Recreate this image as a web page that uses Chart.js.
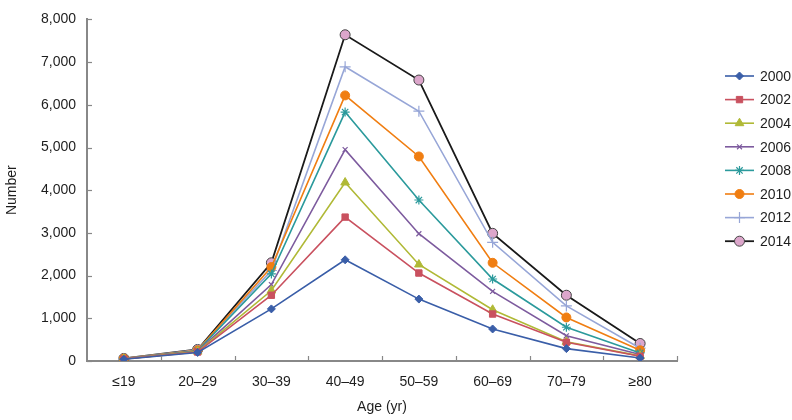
<!DOCTYPE html>
<html>
<head>
<meta charset="utf-8">
<script src="https://cdn.jsdelivr.net/npm/chart.js@4/dist/chart.umd.min.js"></script>
<style>
  html, body { margin: 0; padding: 0; background: #fff; }
  #wrap { width: 792px; height: 420px; }
</style>
</head>
<body>
<div id="wrap"><canvas id="chart"></canvas></div>
<script>
// Age groups and counts per year
const ageGroups = ['≤19', '20–29', '30–39', '40–49', '50–59', '60–69', '70–79', '≥80'];
const years = ['2000', '2002', '2004', '2006', '2008', '2010', '2012', '2014'];
const yTicks = [0, 1000, 2000, 3000, 4000, 5000, 6000, 7000, 8000];

const y2000 = [40, 200, 1220, 2370, 1450, 750, 290, 70];
const y2002 = [45, 210, 1540, 3370, 2060, 1100, 440, 110];
const y2004 = [45, 220, 1650, 4180, 2260, 1200, 450, 120];
const y2006 = [50, 230, 1790, 4950, 2980, 1630, 590, 150];
const y2008 = [50, 240, 2040, 5830, 3770, 1920, 790, 190];
const y2010 = [55, 250, 2200, 6220, 4790, 2300, 1020, 250];
const y2012 = [55, 260, 2120, 6890, 5850, 2780, 1290, 300];
const y2014 = [60, 270, 2300, 7640, 6580, 2990, 1540, 410];

const seriesValues = [y2000, y2002, y2004, y2006, y2008, y2010, y2012, y2014];

// style per series: line colour, marker, fill
const styles = [
  { color: '#3a5ea8', point: 'rectRot', radius: 4, fill: '#3a5ea8', border: '#3a5ea8' },
  { color: '#c9515f', point: 'rect', radius: 4.5, fill: '#c9515f', border: '#c9515f' },
  { color: '#b0b936', point: 'triangle', radius: 5, fill: '#b0b936', border: '#b0b936' },
  { color: '#7d5b9e', point: 'crossRot', radius: 3.5, fill: '#7d5b9e', border: '#7d5b9e' },
  { color: '#2b9a9c', point: 'star', radius: 4.5, fill: '#2b9a9c', border: '#2b9a9c' },
  { color: '#f07e12', point: 'circle', radius: 4.5, fill: '#f07e12', border: '#f07e12' },
  { color: '#97a6d7', point: 'cross', radius: 5.5, fill: '#97a6d7', border: '#97a6d7' },
  { color: '#1a1a1a', point: 'circle', radius: 5, fill: '#dca6cb', border: '#444' }
];

const FONT = 'Liberation Sans, Arial, sans-serif';
const AXIS = '#888';

const datasets = years.map((yr, i) => ({
  label: yr,
  data: seriesValues[i],
  borderColor: styles[i].color,
  borderWidth: i === 7 ? 1.8 : 1.6,
  backgroundColor: styles[i].fill,
  pointStyle: styles[i].point,
  pointRadius: styles[i].radius,
  pointBackgroundColor: styles[i].fill,
  pointBorderColor: styles[i].border,
  pointBorderWidth: styles[i].point === 'crossRot' || styles[i].point === 'cross' || styles[i].point === 'star' ? 1.2 : 1,
  tension: 0,
  fill: false
}));

// inward ticks + right-side legend
const extras = {
  id: 'extras',
  afterDraw(chart) {
    const ctx = chart.ctx;
    const area = chart.chartArea;
    const ys = chart.scales.y;
    ctx.save();
    ctx.strokeStyle = AXIS;
    ctx.lineWidth = 1.2;
    // y ticks, pointing right
    yTicks.forEach(v => {
      const py = Math.round(ys.getPixelForValue(v)) + 0.5;
      ctx.beginPath();
      ctx.moveTo(area.left, py);
      ctx.lineTo(area.left + 5, py);
      ctx.stroke();
    });
    // x ticks at category boundaries, pointing up
    const step = (area.right - area.left) / ageGroups.length;
    for (let k = 1; k <= ageGroups.length; k++) {
      const px = Math.round(area.left + k * step) + 0.5;
      ctx.beginPath();
      ctx.moveTo(px, area.bottom);
      ctx.lineTo(px, area.bottom - 5);
      ctx.stroke();
    }
    // legend
    const lx = area.right + 48, top = 76, gap = 23.6;
    ctx.font = '14px ' + FONT;
    ctx.textBaseline = 'middle';
    ctx.textAlign = 'left';
    datasets.forEach((ds, i) => {
      const y = top + i * gap;
      ctx.strokeStyle = ds.borderColor;
      ctx.lineWidth = ds.borderWidth;
      ctx.beginPath();
      ctx.moveTo(lx, y);
      ctx.lineTo(lx + 29, y);
      ctx.stroke();
      ctx.fillStyle = ds.pointBackgroundColor;
      ctx.strokeStyle = ds.pointBorderColor;
      ctx.lineWidth = ds.pointBorderWidth;
      Chart.helpers.drawPoint(ctx, { pointStyle: ds.pointStyle, radius: ds.pointRadius, rotation: 0, borderWidth: ds.pointBorderWidth }, lx + 14.5, y);
      ctx.fillStyle = '#1e1e1e';
      ctx.fillText(ds.label, lx + 35, y + 1);
    });
    ctx.restore();
  }
};

new Chart(document.getElementById('chart'), {
  type: 'line',
  data: { labels: ageGroups, datasets: datasets },
  options: {
    responsive: true,
    maintainAspectRatio: false,
    animation: false,
    layout: { padding: { top: 7, right: 115, left: 0, bottom: 0 } },
    plugins: { legend: { display: false }, tooltip: { enabled: false } },
    scales: {
      x: {
        offset: true,
        grid: { display: false, drawTicks: false },
        border: { display: true, color: AXIS, width: 2 },
        ticks: { color: '#1e1e1e', font: { family: FONT, size: 14 }, padding: 13 },
        title: { display: true, text: 'Age (yr)', color: '#1e1e1e', font: { family: FONT, size: 14 }, padding: { top: 9 } },
        afterFit(scale) { scale.height = 59; }
      },
      y: {
        min: 0,
        max: 8000,
        afterBuildTicks(scale) { scale.ticks = yTicks.map(v => ({ value: v })); },
        grid: { display: false, drawTicks: false },
        border: { display: true, color: AXIS, width: 2 },
        ticks: {
          color: '#1e1e1e',
          font: { family: FONT, size: 14 },
          padding: 11,
          callback: v => v.toLocaleString('en-US')
        },
        title: { display: true, text: 'Number', color: '#1e1e1e', font: { family: FONT, size: 14 } },
        afterFit(scale) { scale.width = 87; }
      }
    }
  },
  plugins: [extras]
});
</script>
</body>
</html>
